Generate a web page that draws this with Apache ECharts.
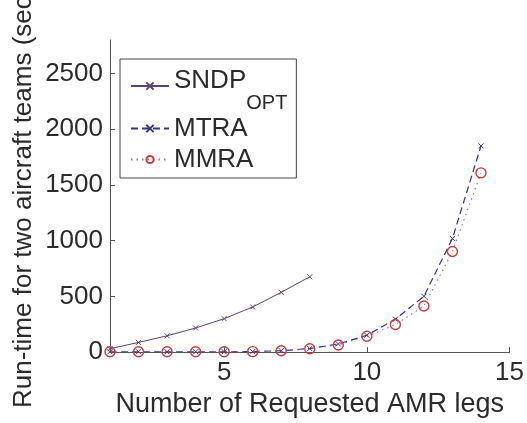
<!DOCTYPE html>
<html><head><meta charset="utf-8">
<script src="https://cdn.jsdelivr.net/npm/echarts@6/dist/echarts.min.js"></script>
<style>html,body{margin:0;padding:0;background:#fff}#c{width:527px;height:423px}</style>
</head><body><div id="c"></div>
<script>
const legsSNDP = [1, 2, 3, 4, 5, 6, 7, 8];
const sndpOpt = [30, 87, 146, 216, 300, 405, 536, 676];
const legsAll = [1, 2, 3, 4, 5, 6, 7, 8, 9, 10, 11, 12, 13, 14];
const mtra = [3, 3, 3, 3, 3, 4, 13, 32, 73, 151, 295, 501, 1020, 1850];
const mmra = [3, 3, 3, 3, 3, 4, 12, 30, 64, 142, 247, 413, 903, 1608];
const xTicks = [5, 10, 15];
const yTicks = [0, 500, 1000, 1500, 2000, 2500];
const xName = 'Number of Requested AMR legs';
const yName = 'Run-time for two aircraft teams (sec)';

const F = 'Liberation Sans, Arial, sans-serif';
const txt = '#2b2b2b';
const axisCol = '#555';
const X = 'path://M0,0L10,10M10,0L0,10';
const pair = (xs, ys) => xs.map((x, i) => [x, ys[i]]);

const chart = echarts.init(document.getElementById('c'));
chart.setOption({
  animation: false,
  backgroundColor: '#fff',
  grid: { left: 110, right: 17, top: 40, bottom: 64 },
  xAxis: {
    type: 'value', min: 1, max: 15,
    axisLine: { lineStyle: { color: axisCol, width: 1 } },
    axisTick: { inside: true, length: 5, customValues: xTicks, lineStyle: { color: axisCol } },
    axisLabel: { customValues: xTicks, fontFamily: F, fontSize: 26, color: txt, margin: 8 },
    splitLine: { show: false },
    name: xName, nameLocation: 'middle', nameGap: 27,
    nameTextStyle: { fontFamily: F, fontSize: 27, color: txt }
  },
  yAxis: {
    type: 'value', min: 0, max: 2800,
    axisLine: { show: true, lineStyle: { color: axisCol, width: 1 } },
    axisTick: { show: true, inside: true, length: 5, customValues: yTicks, lineStyle: { color: axisCol } },
    axisLabel: { customValues: yTicks, fontFamily: F, fontSize: 26, color: txt, margin: 7,
      formatter: v => String(v) },
    splitLine: { show: false }
  },
  legend: {
    orient: 'vertical', left: 120, top: 59,
    padding: [0, 9, 3, 10], itemGap: 0,
    itemWidth: 38, itemHeight: 9,
    borderColor: '#444', borderWidth: 1, backgroundColor: '#fff',
    textStyle: { fontFamily: F, fontSize: 26, color: txt, lineHeight: 31,
      rich: {
        a: { fontFamily: F, fontSize: 26, color: txt, lineHeight: 45, verticalAlign: 'top' },
        b: { fontFamily: F, fontSize: 20, color: txt, lineHeight: 45, verticalAlign: 'bottom' }
      } },
    formatter: n => n === 'SNDP_OPT' ? '{a|SNDP}{b|OPT}' : n,
    data: [
      { name: 'SNDP_OPT', textStyle: { padding: [9, 0, 0, 0] } },
      'MTRA', 'MMRA'
    ]
  },
  graphic: [{
    type: 'text', x: 24, y: 408, rotation: Math.PI / 2,
    style: { text: yName, fontFamily: F, fontSize: 26, fill: txt, align: 'left', verticalAlign: 'middle' }
  }],
  series: [
    { name: 'SNDP_OPT', type: 'line', data: pair(legsSNDP, sndpOpt),
      symbol: X, symbolSize: 5, color: '#5e4470',
      lineStyle: { color: '#5e4470', width: 1, type: 'solid' },
      itemStyle: { color: '#5e4470', borderColor: '#5e4470', borderWidth: 1 } },
    { name: 'MTRA', type: 'line', data: pair(legsAll, mtra),
      symbol: X, symbolSize: 5, color: '#34348a',
      lineStyle: { color: '#34348a', width: 1.2, type: [7, 4] },
      itemStyle: { color: '#34348a', borderColor: '#34348a', borderWidth: 1 } },
    { name: 'MMRA', type: 'line', data: pair(legsAll, mmra),
      symbol: 'circle', symbolSize: 10, color: '#d03a3a',
      lineStyle: { color: '#8f7ab8', width: 1.2, type: [1.5, 4] },
      itemStyle: { color: 'rgba(255,255,255,0)', borderColor: '#d03a3a', borderWidth: 1.4 } }
  ]
});
</script></body></html>
